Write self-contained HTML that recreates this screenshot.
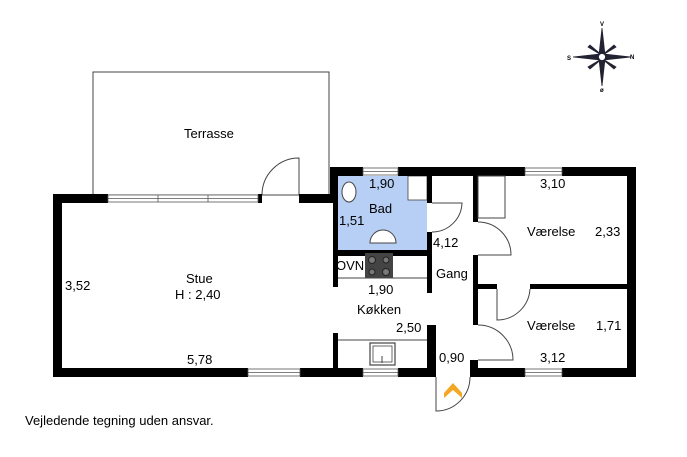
<!DOCTYPE html>
<html><head><meta charset="utf-8"><style>body{margin:0;background:#fff}svg{display:block}text{font-family:"Liberation Sans",sans-serif;font-size:13px;fill:#000}</style></head><body>
<svg width="687" height="457" viewBox="0 0 687 457" xmlns="http://www.w3.org/2000/svg">
<rect width="687" height="457" fill="#fff"/>
<rect x="93" y="72" width="236" height="123" fill="none" stroke="#444" stroke-width="1"/>
<path d="M262 195 A37 37 0 0 1 299 158 L299 195" fill="none" stroke="#444" stroke-width="1"/>
<rect x="338" y="176" width="89" height="74" fill="#b7cff5"/>
<rect x="408" y="176" width="19" height="24" fill="#fff" stroke="#444" stroke-width="0.8"/>
<g fill="#000">
<rect x="53" y="194" width="9" height="183"/>
<rect x="53" y="194" width="55" height="9"/>
<rect x="258" y="194" width="4" height="9"/>
<rect x="299" y="194" width="39" height="9"/>
<rect x="53" y="368" width="195" height="9"/>
<rect x="300" y="368" width="63" height="9"/>
<rect x="398" y="368" width="38" height="9"/>
<rect x="470" y="368" width="55" height="9"/>
<rect x="562" y="368" width="74" height="9"/>
<rect x="470" y="360" width="8" height="17"/>
<rect x="330" y="167" width="33" height="9"/>
<rect x="398" y="167" width="127" height="9"/>
<rect x="562" y="167" width="74" height="9"/>
<rect x="627" y="167" width="9" height="210"/>
<rect x="330" y="167" width="8" height="36"/>
<rect x="333" y="176" width="5" height="111"/>
<rect x="333" y="333" width="5" height="35"/>
<rect x="333" y="250" width="99" height="6"/>
<rect x="427" y="176" width="5" height="27"/>
<rect x="427" y="232" width="5" height="61"/>
<rect x="427" y="325" width="9" height="52"/>
<rect x="473" y="176" width="5" height="46"/>
<rect x="473" y="255" width="5" height="70"/>
<rect x="478" y="284" width="19" height="5"/>
<rect x="530" y="284" width="97" height="5"/>
</g>
<g fill="#fff" stroke="#555" stroke-width="0.8">
<rect x="108" y="195" width="150" height="7"/><line x1="108" y1="198.5" x2="258" y2="198.5"/>
<line x1="158" y1="195" x2="158" y2="202"/><line x1="208" y1="195" x2="208" y2="202"/>
<rect x="363" y="168" width="35" height="7"/><line x1="363" y1="171.5" x2="398" y2="171.5"/>
<rect x="525" y="168" width="37" height="7"/><line x1="525" y1="171.5" x2="562" y2="171.5"/>
<rect x="248" y="369" width="52" height="7"/><line x1="248" y1="372.5" x2="300" y2="372.5"/>
<rect x="363" y="369" width="35" height="7"/><line x1="363" y1="372.5" x2="398" y2="372.5"/>
<rect x="525" y="369" width="37" height="7"/><line x1="525" y1="372.5" x2="562" y2="372.5"/>
</g>
<g fill="none" stroke="#444" stroke-width="1">
<path d="M432 203 L462 203 A30 30 0 0 1 432 232"/>
<path d="M478 222 A33 33 0 0 1 511 255 L478 255"/>
<path d="M497 289 L497 320 A33 33 0 0 0 530 289"/>
<path d="M478 325 A35 35 0 0 1 513 360 L478 360"/>
<path d="M436 377 L436 411 A34 34 0 0 0 470 377"/>
<rect x="478" y="176" width="27" height="42"/>
<line x1="338" y1="278" x2="427" y2="278"/>
<line x1="338" y1="340" x2="427" y2="340"/>
<rect x="370" y="343" width="25" height="22" stroke-width="1.2"/>
<rect x="373" y="346" width="19" height="16" stroke-width="0.8"/>
<line x1="382" y1="356" x2="382" y2="363"/>
<ellipse cx="349" cy="192" rx="7" ry="10" fill="#fff"/>
<path d="M370 243 A13 13 0 0 1 396 243 Z" fill="#fff"/>
</g>
<rect x="365" y="253" width="28" height="25" fill="#444"/>
<g fill="#777" stroke="#222"><circle cx="372" cy="260" r="3.5"/><circle cx="386" cy="260" r="3"/><circle cx="372" cy="272" r="3"/><circle cx="386" cy="272" r="3.5"/></g>
<path d="M444 393 L453 383 L462 393 L462 398 L453 390 L444 398 Z" fill="#f5a623"/>
<g fill="#223" stroke="#223" stroke-width="0.8">
<path d="M602 28 L605 55 L602 58 L599 55 Z"/><path d="M602 86 L605 59 L602 56 L599 59 Z"/>
<path d="M573 57 L600 54 L603 57 L600 60 Z"/><path d="M631 57 L604 54 L601 57 L604 60 Z"/>
<path d="M590 45 L603 56 L588 47Z"/><path d="M614 45 L601 56 L616 47Z"/><path d="M590 69 L603 58 L588 67Z"/><path d="M614 69 L601 58 L616 67Z"/>
<circle cx="602" cy="57" r="3.5" fill="#fff"/>
</g>
<g><text x="600" y="26" style="font-size:6px;font-weight:bold">V</text><text x="567" y="60" style="font-size:6px;font-weight:bold">S</text><text x="630" y="59" style="font-size:6px;font-weight:bold">N</text><text x="600" y="92" style="font-size:6px;font-weight:bold">ø</text></g>
<text x="184" y="138">Terrasse</text>
<text x="186" y="283">Stue</text>
<text x="175" y="299">H : 2,40</text>
<text x="65" y="290">3,52</text>
<text x="187" y="364">5,78</text>
<text x="369" y="188">1,90</text>
<text x="369" y="213">Bad</text>
<text x="339" y="225">1,51</text>
<text x="336" y="270">OVN</text>
<text x="368" y="294">1,90</text>
<text x="357" y="314">Køkken</text>
<text x="396" y="332">2,50</text>
<text x="433" y="247">4,12</text>
<text x="436" y="278">Gang</text>
<text x="439" y="362">0,90</text>
<text x="540" y="188">3,10</text>
<text x="527" y="236">Værelse</text>
<text x="595" y="236">2,33</text>
<text x="527" y="330">Værelse</text>
<text x="596" y="330">1,71</text>
<text x="540" y="362">3,12</text>
<text x="25" y="425">Vejledende tegning uden ansvar.</text>
</svg>
</body></html>
